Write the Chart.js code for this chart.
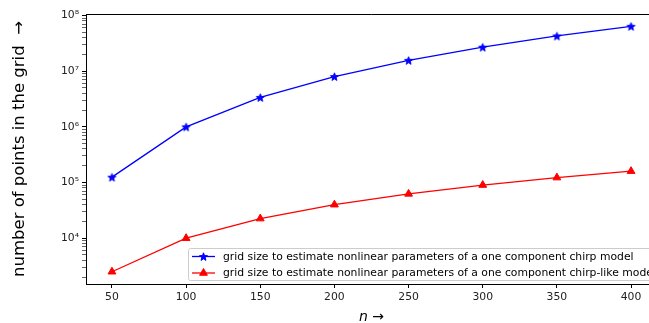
<!DOCTYPE html>
<html>
<head>
<meta charset="utf-8">
<script src="https://cdn.jsdelivr.net/npm/chart.js@4/dist/chart.umd.min.js"></script>
<style>
  html, body { margin: 0; padding: 0; background: #fff; overflow: hidden; }
  #wrap { width: 649px; height: 323px; overflow: hidden; }
</style>
</head>
<body>
<div id="wrap"><canvas id="chart" width="700" height="340"></canvas></div>
<script>
// grid sizes for the one-component chirp / chirp-like models
const nValues       = [50, 100, 150, 200, 250, 300, 350, 400]
const chirpGrid     = [125000, 1000000, 3375000, 8000000, 15625000, 27000000, 42875000, 64000000]
const chirpLikeGrid = [2500, 10000, 22500, 40000, 62500, 90000, 122500, 160000]

const xTicks   = [50, 100, 150, 200, 250, 300, 350, 400]
const yDecades = [3, 4, 5, 6, 7, 8]
const xRange   = [32.5, 417.5]
const yRange   = [1505, 1.063e8]

const chirpLabel     = 'grid size to estimate nonlinear parameters of a one component chirp model'
const chirpLikeLabel = 'grid size to estimate nonlinear parameters of a one component chirp-like model'

const FONT = "'DejaVu Sans', sans-serif"
const SUP  = { '0': '⁰', '1': '¹', '2': '²', '3': '³', '4': '⁴', '5': '⁵', '6': '⁶', '7': '⁷', '8': '⁸', '9': '⁹' }

// filled five-pointed star used as the blue marker
function starMarker(color, r) {
  const c = document.createElement('canvas')
  const size = Math.ceil(r * 2 + 2)
  c.width = c.height = size
  const g = c.getContext('2d')
  g.translate(size / 2, size / 2 + 0.5)
  g.beginPath()
  for (let i = 0; i < 10; i++) {
    const rad = i % 2 ? r * 0.42 : r
    const a = -Math.PI / 2 + i * Math.PI / 5
    g.lineTo(rad * Math.cos(a), rad * Math.sin(a))
  }
  g.closePath()
  g.fillStyle = color
  g.fill()
  g.lineWidth = 1
  g.strokeStyle = color
  g.stroke()
  return c
}
const blueStar = starMarker('#0000ff', 4.2)

// y ticks: every 1..9 x 10^k inside the range, labels only on powers of ten
function logTicks() {
  const ticks = []
  yDecades.forEach(d => {
    for (let m = 1; m < 10; m++) {
      const v = m * Math.pow(10, d)
      if (v >= yRange[0] && v <= yRange[1]) ticks.push({ value: v, major: m === 1 })
    }
  })
  return ticks
}

// top and right spines
const frame = {
  id: 'frame',
  afterDatasetsDraw(chart) {
    const { ctx, chartArea: a } = chart
    const top = Math.round(a.top) + 0.5, right = Math.round(a.right) + 0.5
    ctx.save()
    ctx.lineWidth = 1
    ctx.strokeStyle = '#000'
    ctx.beginPath()
    ctx.moveTo(a.left, top)
    ctx.lineTo(right, top)
    ctx.lineTo(right, a.bottom)
    ctx.stroke()
    ctx.restore()
  },
}

// legend in the lower right corner of the axes
const cornerLegend = {
  id: 'cornerLegend',
  afterDraw(chart) {
    const { ctx } = chart
    const ds = chart.data.datasets
    ctx.save()
    ctx.font = '10.8px ' + FONT
    const textW = Math.max(...ds.map(d => ctx.measureText(d.label).width))
    const x = 188.5, y = 248.5, h = 32
    const w = 35 + textW + 6
    ctx.beginPath()
    ctx.roundRect(x, y, w, h, 2)
    ctx.fillStyle = 'rgba(255,255,255,0.8)'
    ctx.fill()
    ctx.strokeStyle = '#cccccc'
    ctx.lineWidth = 1
    ctx.stroke()

    ds.forEach((d, i) => {
      const cy = 256.5 + i * 16.5
      ctx.strokeStyle = d.borderColor
      ctx.lineWidth = 1.3
      ctx.beginPath()
      ctx.moveTo(192, cy)
      ctx.lineTo(215, cy)
      ctx.stroke()
      if (d.pointStyle === 'triangle') {
        ctx.fillStyle = d.backgroundColor
        ctx.strokeStyle = d.borderColor
        ctx.lineWidth = 1
        ctx.beginPath()
        const r = 4.5, e = r * Math.sqrt(3)
        ctx.moveTo(203.5, cy - r)
        ctx.lineTo(203.5 - e / 2, cy + r / 2)
        ctx.lineTo(203.5 + e / 2, cy + r / 2)
        ctx.closePath()
        ctx.fill()
        ctx.stroke()
      } else {
        ctx.drawImage(d.pointStyle, 203.5 - d.pointStyle.width / 2, cy - d.pointStyle.height / 2)
      }
      ctx.fillStyle = '#000'
      ctx.textBaseline = 'middle'
      ctx.fillText(d.label, 223, cy + 0.5)
    })
    ctx.restore()
  },
}

new Chart(document.getElementById('chart'), {
  type: 'line',
  data: {
    labels: nValues,
    datasets: [
      {
        label:           chirpLabel,
        data:            nValues.map((n, i) => ({ x: n, y: chirpGrid[i] })),
        borderColor:     '#0000ff',
        backgroundColor: '#0000ff',
        borderWidth:     1.3,
        pointStyle:      blueStar,
        pointRadius:     4,
        tension:         0,
      },
      {
        label:           chirpLikeLabel,
        data:            nValues.map((n, i) => ({ x: n, y: chirpLikeGrid[i] })),
        borderColor:     '#ff0000',
        backgroundColor: '#ff0000',
        borderWidth:     1.3,
        pointStyle:      'triangle',
        pointRadius:     4.5,
        pointBorderWidth: 1,
        tension:         0,
      },
    ],
  },
  options: {
    responsive: false,
    animation: false,
    layout: { padding: { left: 0, top: 14, right: 43, bottom: 0 } },
    plugins: { legend: { display: false }, tooltip: { enabled: false } },
    scales: {
      x: {
        type: 'linear',
        min: xRange[0], max: xRange[1],
        afterBuildTicks: s => { s.ticks = xTicks.map(v => ({ value: v })) },
        afterFit: s => { s.height = 56 },
        grid: { drawOnChartArea: false, tickLength: 4, tickColor: '#000', tickWidth: 1 },
        border: { color: '#000', width: 1 },
        ticks: { color: '#222', padding: 3, maxRotation: 0, font: { family: FONT, size: 10.8 } },
        title: {
          display: true, text: 'n →', color: '#000', padding: { top: 0, bottom: 14 },
          font: { family: FONT, size: 14, style: 'italic' },
        },
      },
      y: {
        type: 'logarithmic',
        min: yRange[0], max: yRange[1],
        afterBuildTicks: s => { s.ticks = logTicks() },
        afterFit: s => { s.width = 86 },
        grid: {
          drawOnChartArea: false, tickLength: 4, tickColor: '#000',
          tickWidth: c => (c.tick && c.tick.major ? 1 : 0.6),
        },
        border: { color: '#000', width: 1 },
        ticks: {
          color: '#222', padding: 3, autoSkip: false,
          font: { family: FONT, size: 10.8 },
          callback: v => {
            const p = Math.log10(v)
            return Math.abs(p - Math.round(p)) < 1e-9 ? '10' + String(Math.round(p)).split('').map(c => SUP[c]).join('') : ''
          },
        },
        title: {
          display: true, text: 'number of points in the grid  →', color: '#000',
          padding: { top: 10, bottom: 0 },
          font: { family: FONT, size: 16.5 },
        },
      },
    },
  },
  plugins: [frame, cornerLegend],
})
</script>
</body>
</html>
